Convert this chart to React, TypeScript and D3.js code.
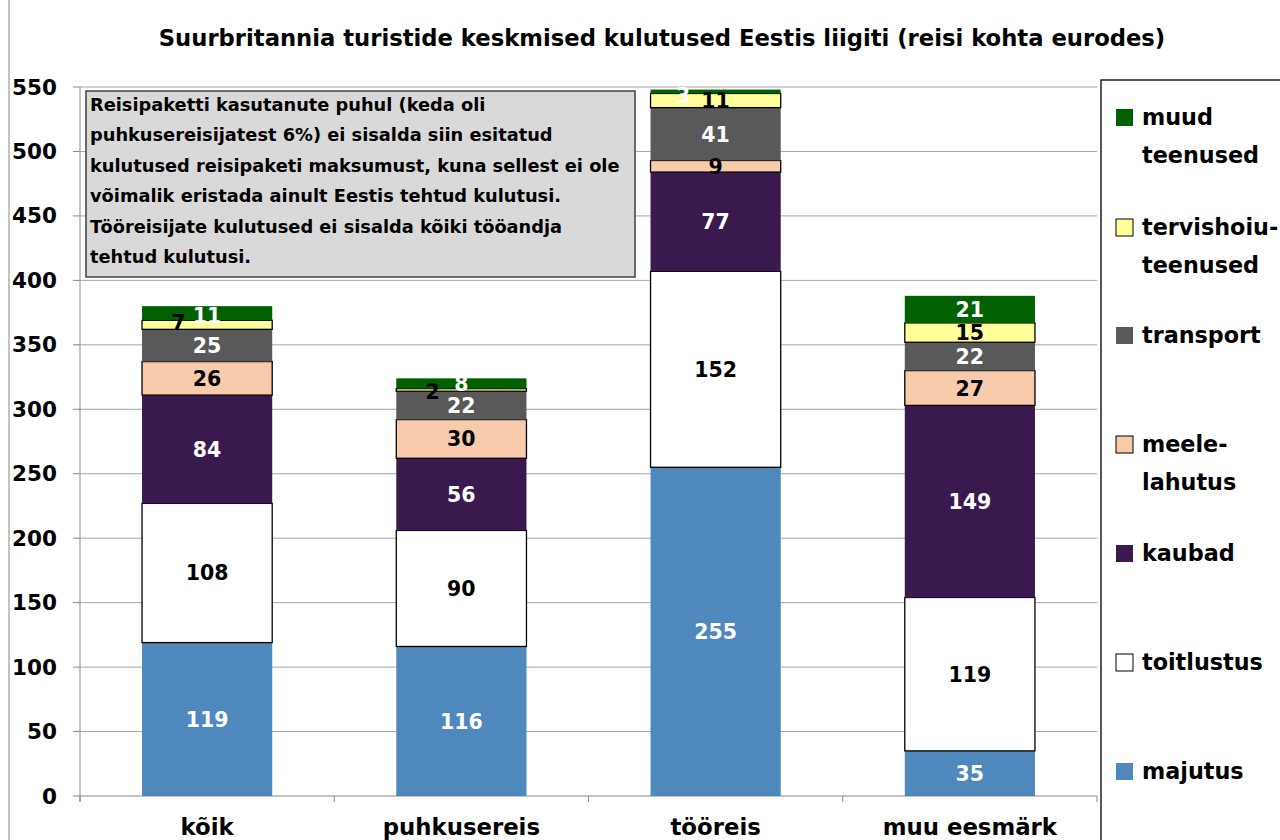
import React from "react";
import * as d3 from "d3";

const categories = ["kõik", "puhkusereis", "tööreis", "muu eesmärk"];
const seriesNames = ["majutus", "toitlustus", "kaubad", "meelelahutus", "transport", "tervishoiuteenused", "muud teenused"];
const majutus = [119, 116, 255, 35];
const toitlustus = [108, 90, 152, 119];
const kaubad = [84, 56, 77, 149];
const meelelahutus = [26, 30, 9, 27];
const transport = [25, 22, 41, 22];
const tervishoiu = [7, 2, 11, 15];
const muud = [11, 8, 3, 21];
const yTicks = [0, 50, 100, 150, 200, 250, 300, 350, 400, 450, 500, 550];

const seriesValues = [majutus, toitlustus, kaubad, meelelahutus, transport, tervishoiu, muud];
const fills = ["#4F88BD", "#FFFFFF", "#3A1A4E", "#F8CBAD", "#595959", "#FFFF99", "#006100"];
const strokes = ["none", "#000", "none", "#000", "none", "#000", "none"];
const labelColors = ["#fff", "#000", "#fff", "#000", "#fff", "#000", "#fff"];
// label nudges for crowded small segments: [series][category] -> [dxFrac, dy]
const nudges: Record<string, [number, number]> = {
  "5-0": [-0.22, -2],
  "5-1": [-0.22, 2],
  "6-2": [-0.25, 4],
  "6-1": [0, 0],
  "6-0": [0, 2],
};
const legendItems = [
  { s: 6, lines: ["muud", "teenused"] },
  { s: 5, lines: ["tervishoiu-", "teenused"] },
  { s: 4, lines: ["transport"] },
  { s: 3, lines: ["meele-", "lahutus"] },
  { s: 2, lines: ["kaubad"] },
  { s: 1, lines: ["toitlustus"] },
  { s: 0, lines: ["majutus"] },
];
const legendY = [115, 225, 333, 442, 551, 660, 769];
const noteLines = [
  "Reisipaketti kasutanute puhul (keda oli",
  "puhkusereisijatest 6%) ei sisalda siin esitatud",
  "kulutused reisipaketi maksumust, kuna sellest ei ole",
  "võimalik eristada ainult Eestis tehtud kulutusi.",
  "Tööreisijate kulutused ei sisalda kõiki tööandja",
  "tehtud kulutusi.",
];

const FONT = "'DejaVu Sans', sans-serif";

export default function App() {
  const left = 80, right = 1097, top = 87, bottom = 796;
  const x = d3.scaleBand<string>().domain(categories).range([left, right]).paddingInner(0.488).paddingOuter(0.244);
  const y = d3.scaleLinear().domain([0, 550]).range([bottom, top]);

  const rows = categories.map((c, i) => {
    const o: any = { cat: c };
    seriesNames.forEach((s, j) => (o[s] = seriesValues[j][i]));
    return o;
  });
  const stacked = d3.stack<any>().keys(seriesNames)(rows);
  const bw = x.bandwidth();
  const step = x.step();

  return (
    <svg width={1280} height={840} style={{ position: "absolute", left: 0, top: 0, background: "#fff" }} fontFamily={FONT}>
      <rect x={9} y={-2} width={1300} height={900} fill="#fff" stroke="#888" strokeWidth={1} />
      <text x={662} y={46} textAnchor="middle" fontSize={22.7} fontWeight="bold">
        Suurbritannia turistide keskmised kulutused Eestis liigiti (reisi kohta eurodes)
      </text>
      {yTicks.map((t) => (
        <g key={t}>
          {t > 0 && <line x1={left} x2={right} y1={y(t)} y2={y(t)} stroke="#A6A6A6" strokeWidth={1} />}
          <line x1={left - 7} x2={left} y1={y(t)} y2={y(t)} stroke="#888" />
          <text x={57} y={y(t) + 7.5} textAnchor="end" fontSize={21.5} fontWeight="bold">{t}</text>
        </g>
      ))}
      <line x1={left} x2={left} y1={top} y2={bottom + 6} stroke="#888" />
      <line x1={left} x2={right} y1={bottom} y2={bottom} stroke="#888" />
      {d3.range(categories.length + 1).map((i) => (
        <line key={i} x1={left + i * step} x2={left + i * step} y1={bottom} y2={bottom + 6} stroke="#888" />
      ))}
      {stacked.map((layer, j) =>
        layer.map((d, i) => {
          const cat = categories[i];
          const x0 = x(cat)!;
          const y0 = y(d[1]);
          const h = y(d[0]) - y(d[1]);
          return (
            <rect key={`${j}-${i}`} x={x0} y={y0} width={bw} height={h} fill={fills[j]}
              stroke={strokes[j]} strokeWidth={strokes[j] === "none" ? 0 : 1.3} />
          );
        })
      )}
      {stacked.map((layer, j) =>
        layer.map((d, i) => {
          const cat = categories[i];
          const nd = nudges[`${j}-${i}`] || [0, 0];
          const cx = x(cat)! + bw / 2 + nd[0] * bw;
          const cy = (y(d[0]) + y(d[1])) / 2 + nd[1];
          return (
            <text key={`l${j}-${i}`} x={cx} y={cy + 7.5} textAnchor="middle" fontSize={20.5} fontWeight="bold" fill={labelColors[j]}>
              {seriesValues[j][i]}
            </text>
          );
        })
      )}
      {categories.map((c) => (
        <text key={c} x={x(c)! + bw / 2} y={835} textAnchor="middle" fontSize={22.8} fontWeight="bold">{c}</text>
      ))}
      <rect x={86} y={91} width={549} height={186} fill="#D9D9D9" stroke="#404040" strokeWidth={1.5} />
      {noteLines.map((l, i) => (
        <text key={i} x={90} y={111 + i * 30.4} fontSize={17.8} fontWeight="bold">{l}</text>
      ))}
      <rect x={1101} y={80} width={200} height={800} fill="#fff" stroke="#222" strokeWidth={1.5} />
      {legendItems.map((it, k) => (
        <g key={it.s}>
          <rect x={1116} y={legendY[k] - 6} width={17} height={17} fill={fills[it.s]}
            stroke={strokes[it.s] === "none" ? "none" : "#000"} strokeWidth={1} />
          {it.lines.map((ln, m) => (
            <text key={m} x={1142} y={legendY[k] + 10 + m * 38} fontSize={22.3} fontWeight="bold">{ln}</text>
          ))}
        </g>
      ))}
    </svg>
  );
}
